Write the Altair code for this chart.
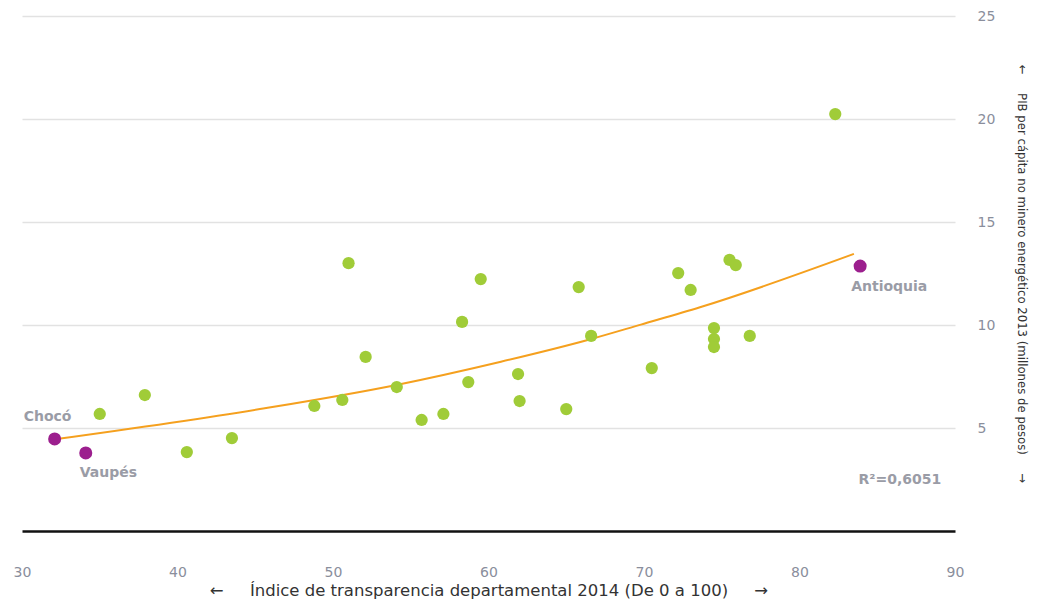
import altair as alt
import pandas as pd

# Green points: departments (Índice de transparencia 2014, PIB per cápita no minero 2013)
green_x = [35.0, 37.9, 40.6, 43.5, 48.8, 50.6, 51.0, 52.1, 54.1, 55.7, 57.1, 58.3,
           58.7, 59.5, 61.9, 62.0, 65.0, 65.8, 66.6, 70.5, 72.2, 73.0, 74.5, 74.5,
           74.5, 75.5, 75.9, 76.8, 82.3]
green_y = [5.68, 6.60, 3.83, 4.51, 6.07, 6.36, 13.00, 8.45, 6.99, 5.39, 5.68, 10.15,
           7.23, 12.23, 7.62, 6.31, 5.92, 11.84, 9.47, 7.91, 12.52, 11.70, 9.85, 9.32,
           8.93, 13.16, 12.91, 9.47, 20.24]

# Highlighted departments
hl_names = ["Chocó", "Vaupés", "Antioquia"]
hl_x = [32.1, 34.1, 83.9]
hl_y = [4.47, 3.79, 12.86]

# Exponential trend line
trend_x = [32.1, 45.3, 54.0, 60.8, 66.5, 69.8, 73.6, 83.5]
trend_y = [4.45, 5.92, 7.08, 8.22, 9.30, 10.02, 10.86, 13.45]

# R² annotation
r2_text = ["R²=0,6051"]
r2_x = [83.8]
r2_y = [2.48]

x_ticks = [30, 40, 50, 60, 70, 80, 90]
y_ticks = [5, 10, 15, 20, 25]

green = pd.DataFrame({"x": green_x, "y": green_y})
hl = pd.DataFrame({"name": hl_names, "x": hl_x, "y": hl_y})
trend_df = pd.DataFrame({"x": trend_x, "y": trend_y})
r2 = pd.DataFrame({"t": r2_text, "x": r2_x, "y": r2_y})

NB = "\u00a0"
x_title = "←" + NB * 5 + "Índice de transparencia departamental 2014 (De 0 a 100)" + NB * 5 + "→"
y_title = "←" + NB * 5 + "PIB per cápita no minero energético 2013 (millones de pesos)" + NB * 5 + "→"

xscale = alt.Scale(domain=[30, 90], nice=False, zero=False)
yscale = alt.Scale(domain=[0, 25], nice=False)

xenc = alt.X("x:Q", scale=xscale, axis=alt.Axis(
    values=x_ticks, grid=False, ticks=False, labelFlush=False,
    domain=True, domainColor="#111111", domainWidth=2.5,
    labelColor="#8a8e9c", labelFontSize=14, labelFont="DejaVu Sans", labelPadding=34,
    title=x_title, titleFont="DejaVu Sans", titleFontSize=16.5, titleFontWeight="normal",
    titleColor="#333333", titlePadding=3))
yenc = alt.Y("y:Q", scale=yscale, axis=alt.Axis(
    orient="right", values=y_ticks, grid=True, gridColor="#e2e2e2", gridWidth=1.5,
    ticks=False, domain=False,
    labelColor="#8a8e9c", labelFontSize=14, labelFont="DejaVu Sans", labelPadding=22,
    title=y_title, titleAngle=90, titleFont="DejaVu Sans Condensed", titleFontSize=13,
    titleFontWeight="normal", titleColor="#333333", titlePadding=20))

trend = alt.Chart(trend_df).mark_line(
    color="#f5a01e", strokeWidth=2, interpolate="monotone").encode(x=xenc, y=yenc)

pts = alt.Chart(green).mark_circle(size=150, opacity=1, color="#a0cc38").encode(x="x:Q", y="y:Q")
hpts = alt.Chart(hl).mark_circle(size=170, opacity=1, color="#9c1f8e").encode(x="x:Q", y="y:Q")

label_style = dict(align="left", baseline="middle", font="DejaVu Sans", fontSize=14,
                   fontWeight="bold", color="#9a9ca6")
lab_choco = alt.Chart(hl).transform_filter(alt.datum.name == "Chocó").mark_text(
    dx=-31, dy=-22, **label_style).encode(x="x:Q", y="y:Q", text="name:N")
lab_vaupes = alt.Chart(hl).transform_filter(alt.datum.name == "Vaupés").mark_text(
    dx=-6, dy=20, **label_style).encode(x="x:Q", y="y:Q", text="name:N")
lab_antioquia = alt.Chart(hl).transform_filter(alt.datum.name == "Antioquia").mark_text(
    dx=-9, dy=21, **label_style).encode(x="x:Q", y="y:Q", text="name:N")
lab_r2 = alt.Chart(r2).mark_text(**label_style).encode(x="x:Q", y="y:Q", text="t:N")

chart = alt.layer(trend, pts, hpts, lab_choco, lab_vaupes, lab_antioquia, lab_r2).properties(
    width=933, height=515,
    background="white",
    autosize=alt.AutoSizeParams(type="none"),
    padding={"left": 14, "top": 8, "right": 76, "bottom": 68},
).configure_view(strokeWidth=0, stroke="transparent")

chart.save("out.html", embed_options={"renderer": "svg", "actions": False})
